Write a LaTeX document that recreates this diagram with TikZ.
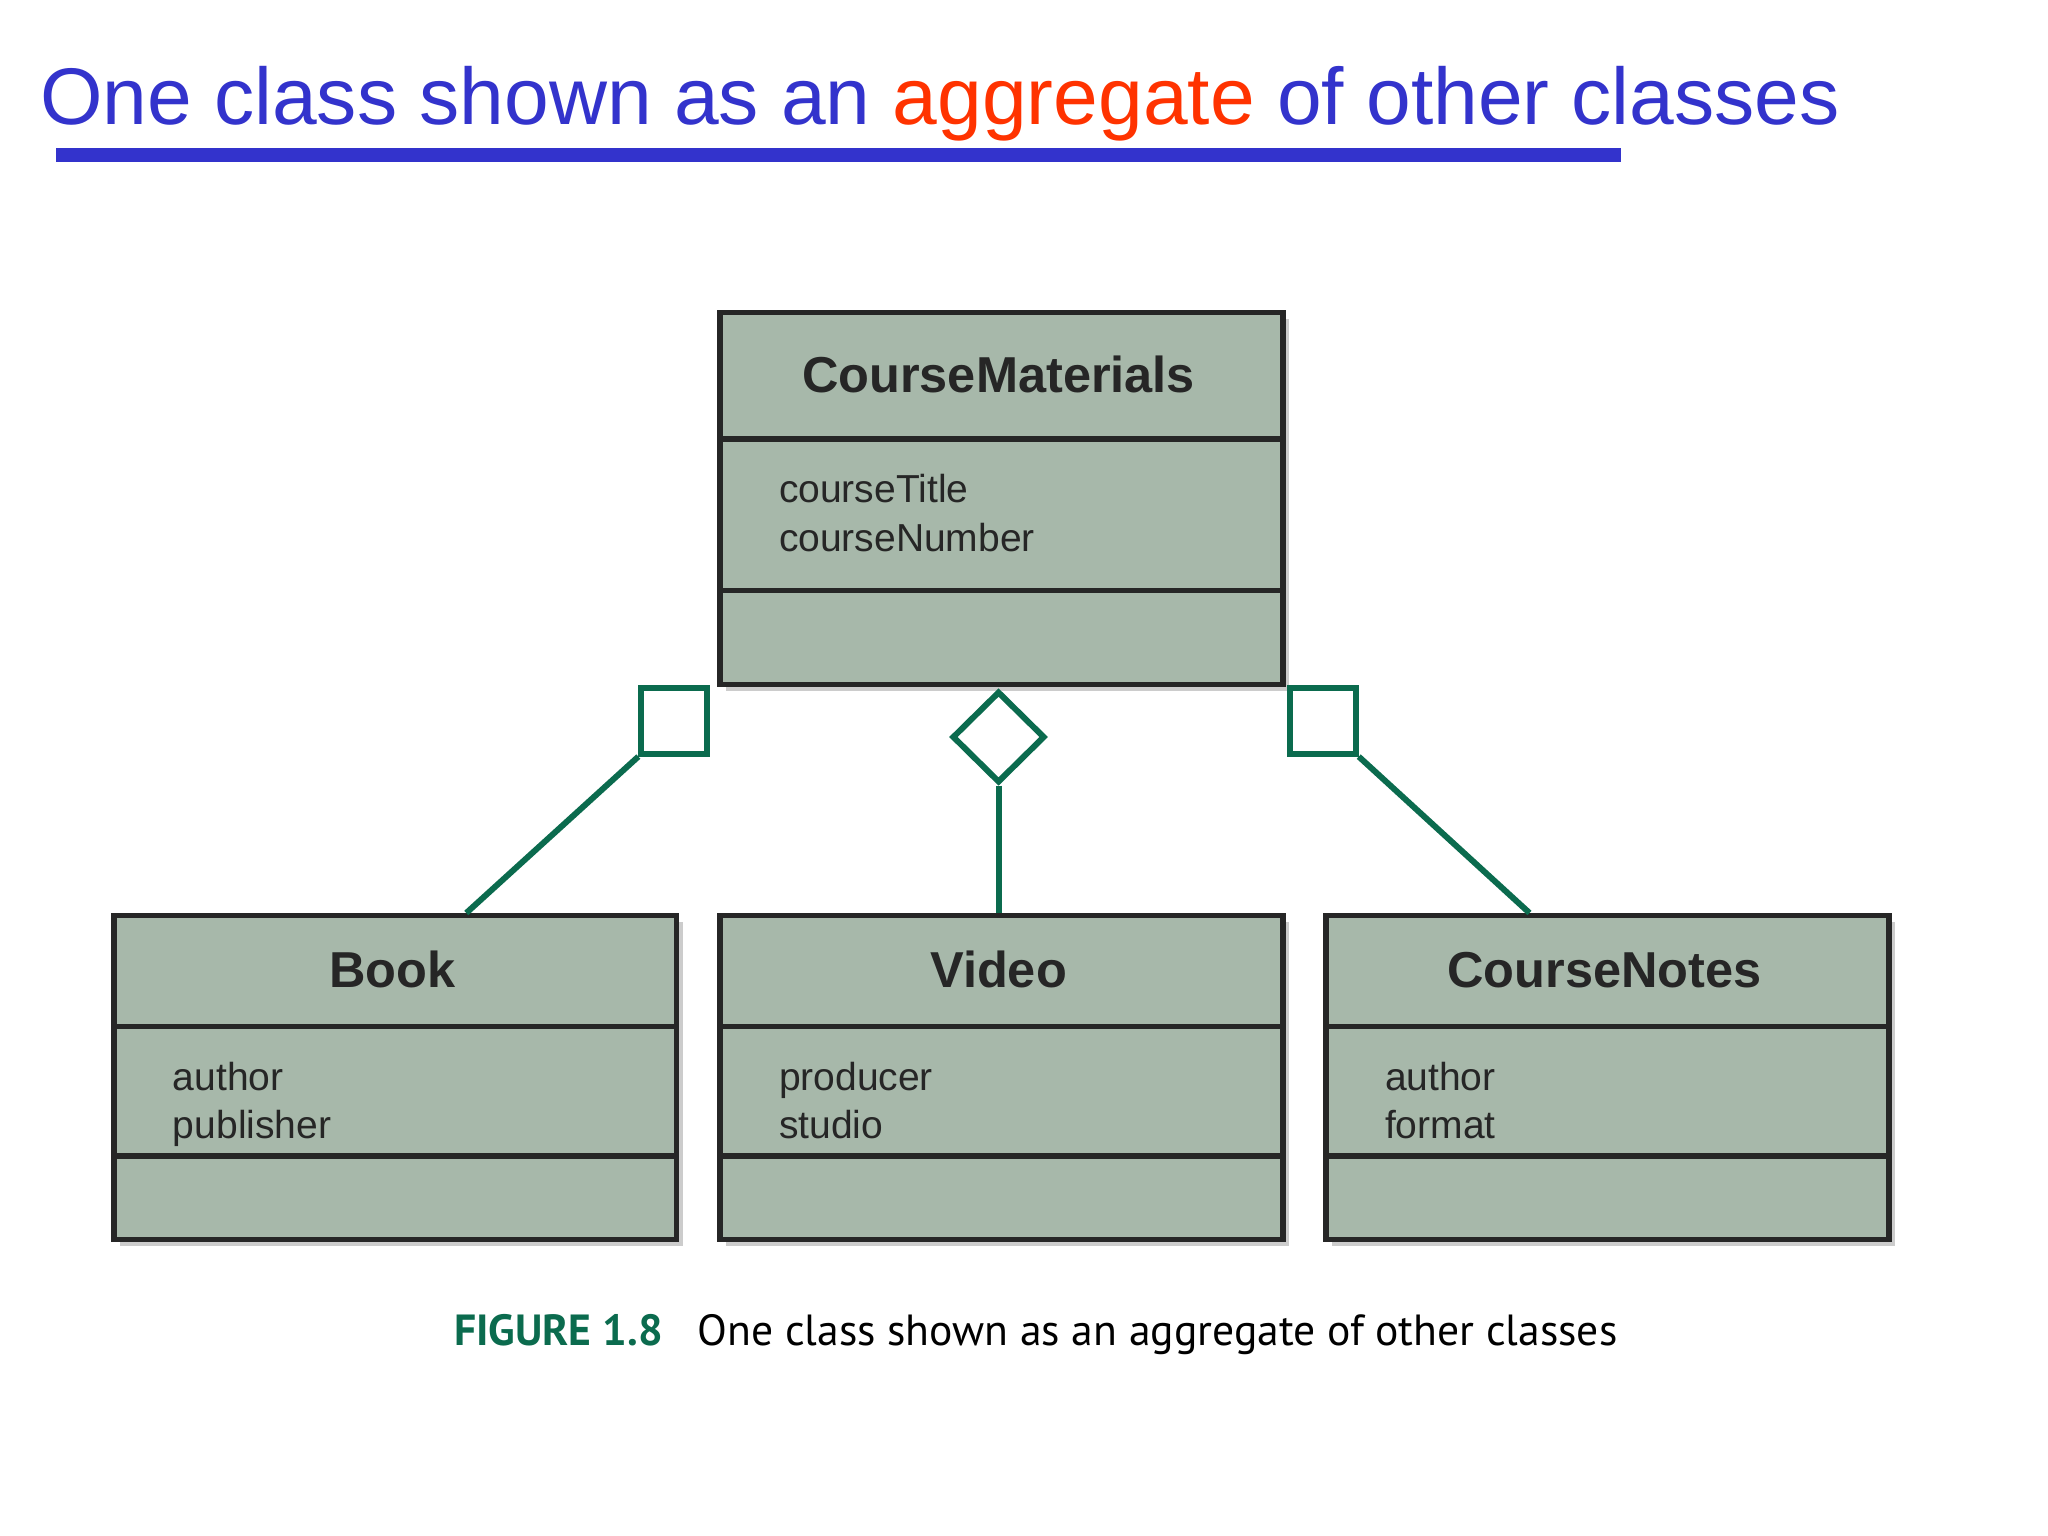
\documentclass[tikz,border=0pt]{standalone}
\usepackage{fontspec}
\setmainfont{Liberation Sans}
\newfontfamily\capfont{PT Sans}
\usetikzlibrary{positioning,shapes.geometric}
\definecolor{boxfill}{HTML}{A7B8AA}
\definecolor{linkgreen}{HTML}{0B6B4E}
\definecolor{titleblue}{HTML}{3333CC}
\definecolor{titlered}{HTML}{FF3300}
\tikzset{
  classbox/.style={draw=black!85, line width=1.2pt, fill=boxfill},
  shadowbox/.style={fill=black!20, draw=none},
  link/.style={draw=linkgreen, line width=1.3pt},
  header/.style={font=\fontsize{11}{13}\selectfont\bfseries, text=black!85},
  attr/.style={font=\fontsize{8.5}{10.5}\selectfont, text=black!85, anchor=north west, align=left}
}
% class box: name, left x, top y, bottom y, first divider, second divider, title, attributes
\newcommand{\classbox}[8]{%
  \fill[shadowbox] (#2+0.07,-#3-0.07) rectangle (#2+4.38,-#4-0.07);
  \node (#1) [classbox, minimum width=4.31cm, minimum height=#4cm-#3cm, anchor=north west, inner sep=0pt] at (#2,-#3) {};
  \draw[black!85, line width=1.2pt] (#2,-#5) -- (#2+4.31,-#5);
  \draw[black!85, line width=1.2pt] (#2,-#6) -- (#2+4.31,-#6);
  \node (#1-name) [header] at (#2+2.155,{-(#3+#5)/2}) {#7};
  \node (#1-attr) [attr] at (#2+0.35,-#5-0.15) {#8};
}
\begin{document}
\begin{tikzpicture}
  \useasboundingbox[fill=white] (0,0) rectangle (15.68,-11.76);
  % Title
  \node (title) [anchor=base west, inner sep=0pt, text=titleblue, font=\fontsize{17.5}{20}\selectfont] at (0.3,-0.95)
    {One class shown as an \textcolor{titlered}{aggregate} of other classes};
  \fill[titleblue] (0.43,-1.13) rectangle (12.41,-1.24);
  % Classes
  \classbox{materials}{5.49}{2.37}{5.22}{3.36}{4.52}{CourseMaterials}{courseTitle\\courseNumber}
  \classbox{book}{0.85}{6.99}{9.47}{7.86}{8.85}{Book}{author\\publisher}
  \classbox{video}{5.49}{6.99}{9.47}{7.86}{8.85}{Video}{producer\\studio}
  \classbox{notes}{10.13}{6.99}{9.47}{7.86}{8.85}{CourseNotes}{author\\format}
  % Aggregation markers
  \node (sqleft) [link, fill=white, minimum size=0.5cm, inner sep=0pt] at (5.16,-5.52) {};
  \node (diam) [link, fill=white, diamond, minimum width=0.71cm, minimum height=0.70cm, inner sep=0pt, anchor=north] at (7.645,-5.27) {};
  \node (sqright) [link, fill=white, minimum size=0.5cm, inner sep=0pt] at (10.13,-5.52) {};
  \coordinate (bookend) at (3.57,-6.99);
  \coordinate (notesend) at (11.71,-6.99);
  \draw[link] (sqleft.south west) -- (bookend);
  \draw[link] (diam.south) -- (diam.south |- video.north);
  \draw[link] (sqright.south east) -- (notesend);
  % Caption
  \node (caption) [anchor=base west, inner sep=0pt, font=\capfont\fontsize{9.5}{11}\selectfont] at (3.47,-10.3)
    {\textcolor{linkgreen}{\bfseries FIGURE 1.8}\hspace{0.8em}One class shown as an aggregate of other classes};
\end{tikzpicture}
\end{document}
